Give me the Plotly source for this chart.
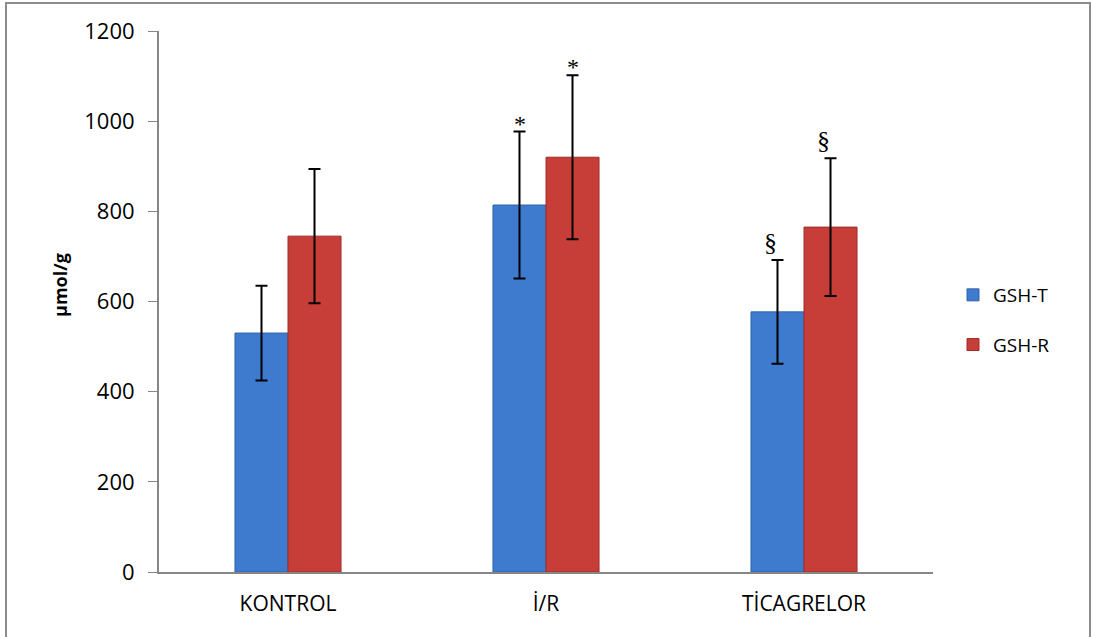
import plotly.graph_objects as go

categories = ["KONTROL", "İ/R", "TİCAGRELOR"]
gsh_t = [530, 814, 577]
gsh_t_err = [105, 163, 115]
gsh_r = [745, 920, 765]
gsh_r_err = [149, 182, 153]
marks_t = ["", "*", "§"]
marks_r = ["", "*", "§"]
y_ticks = [0, 200, 400, 600, 800, 1000, 1200]

BLUE = "#3E7BCE"
RED = "#C73D38"
FONT = "Open Sans, Liberation Sans, sans-serif"
SERIF = "Liberation Serif, DejaVu Serif, serif"

L, R, T, B = 159, 160, 31, 65
PW, PH = 1093 - L - R, 637 - T - B

fig = go.Figure()
fig.add_trace(go.Bar(
    x=categories, y=gsh_t, name="GSH-T", legendgroup="t",
    marker=dict(color=BLUE, line=dict(color="#2F64AA", width=1)),
    error_y=dict(type="data", array=gsh_t_err, visible=True, color="black", thickness=2, width=6),
))
fig.add_trace(go.Bar(
    x=categories, y=gsh_r, name="GSH-R", legendgroup="r",
    marker=dict(color=RED, line=dict(color="#9E2C28", width=1)),
    error_y=dict(type="data", array=gsh_r_err, visible=True, color="black", thickness=2, width=6),
))


def mark_style(m):
    if m == "§":
        return dict(size=26, xshift=-7, yshift=1)
    return dict(size=24, xshift=0, yshift=-7)


annotations = []
for i, c in enumerate(categories):
    for vals, errs, marks, side in ((gsh_t, gsh_t_err, marks_t, -1), (gsh_r, gsh_r_err, marks_r, 1)):
        m = marks[i]
        if not m:
            continue
        st = mark_style(m)
        annotations.append(dict(x=c, y=vals[i] + errs[i], xref="x", yref="y", text=m,
                                showarrow=False, yanchor="bottom",
                                xshift=side * 26.5 + st["xshift"], yshift=st["yshift"],
                                font=dict(family=SERIF, size=st["size"], color="black")))

annotations.append(dict(x=(60 - L) / PW, y=(572 - 285) / PH, xref="paper", yref="paper",
                        text="<b>µmol/g</b>", textangle=-90, showarrow=False,
                        xanchor="center", yanchor="middle",
                        font=dict(family=FONT, size=18, color="black")))

fig.update_layout(
    width=1093, height=637,
    margin=dict(l=L, r=R, t=T, b=B),
    paper_bgcolor="white", plot_bgcolor="white",
    barmode="group", bargap=0.589, bargroupgap=0,
    font=dict(family=FONT, size=20, color="black"),
    showlegend=True,
    legend=dict(x=1 + (953 - (L + PW)) / PW, y=(572 - 320) / PH, xanchor="left", yanchor="middle",
                font=dict(size=19, family=FONT), traceorder="grouped", tracegroupgap=22,
                itemwidth=30, bgcolor="rgba(0,0,0,0)"),
    annotations=annotations,
    shapes=[dict(type="rect", xref="paper", yref="paper",
                 x0=(6 - L) / PW, x1=(1090 - L) / PW,
                 y0=-0.3, y1=(572 - 3) / PH,
                 line=dict(color="#8C8C8C", width=2), layer="below")],
)
fig.update_yaxes(range=[0, 1200], tickvals=y_ticks, showgrid=False, zeroline=False,
                 showline=True, linecolor="#868686", linewidth=2,
                 ticks="outside", ticklen=9, tickcolor="#868686", tickwidth=1,
                 tickfont=dict(size=22), ticklabelstandoff=9, automargin=False)
fig.update_xaxes(showgrid=False, showline=True, linecolor="#868686", linewidth=2,
                 ticks="", tickfont=dict(size=21), ticklabelstandoff=12, automargin=False)

fig.write_html("out.html", config={"displayModeBar": False},
               post_script="document.body.style.margin='0';")
